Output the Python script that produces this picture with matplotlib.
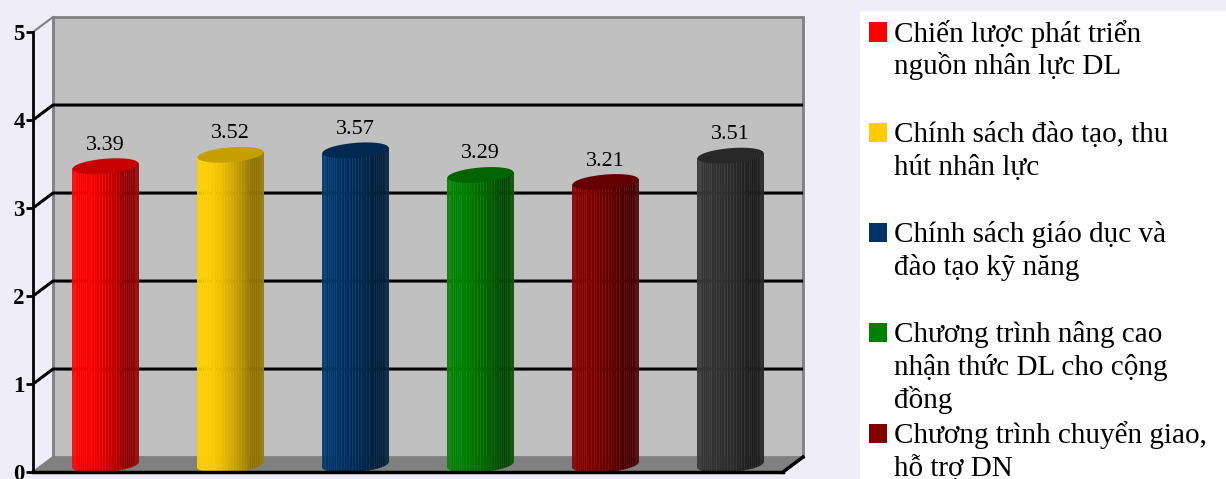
import numpy as np
import matplotlib.pyplot as plt
from matplotlib.patches import Polygon, Rectangle
from matplotlib.colors import to_rgb

# Scores per policy group (0-5 scale)
values = [3.39, 3.52, 3.57, 3.29, 3.21, 3.51]
bar_colors = ['#ff0000', '#ffcc00', '#003366', '#008000', '#800000', '#333333']
legend_labels = [
    "Chiến lược phát triển\nnguồn nhân lực DL",
    "Chính sách đào tạo, thu\nhút nhân lực",
    "Chính sách giáo dục và\nđào tạo kỹ năng",
    "Chương trình nâng cao\nnhận thức DL cho cộng\nđồng",
    "Chương trình chuyển giao,\nhỗ trợ DN",
]
y_ticks = [0, 1, 2, 3, 4, 5]

SERIF = ['Liberation Serif', 'DejaVu Serif']

W, H = 1226, 479
fig = plt.figure(figsize=(W / 100, H / 100), dpi=100, facecolor='#eeedf8')

# legend panel
fig.patches.append(Rectangle((860 / W, 0), 1, 1 - 11 / H, transform=fig.transFigure,
                             fc='white', ec='none', zorder=0))

ax = fig.add_axes([33 / W, 7 / H, 750 / W, 440 / H])
ax.set_xlim(-0.5, len(values) - 0.5)
ax.set_ylim(0, 5)
ax.set_facecolor('none')

# depth of the 3D box in data units
dx, dy = 0.16, 0.17
x0, x1 = -0.5, len(values) - 0.5

# back wall
ax.add_patch(Rectangle((x0 + dx, dy), x1 - x0, 5, fc='#c0c0c0', ec='#808080',
                       lw=2, clip_on=False, zorder=0))
for v in y_ticks[1:-1]:
    ax.plot([x0, x0 + dx, x1 + dx], [v, v + dy, v + dy], color='black', lw=2.2,
            clip_on=False, zorder=1, solid_capstyle='butt')
for v in (0, 5):
    ax.plot([x0, x0 + dx], [v, v + dy], color='#808080', lw=1.5, clip_on=False, zorder=1)

# floor
ax.add_patch(Polygon([(x0, 0), (x1, 0), (x1 + dx, dy), (x0 + dx, dy)], closed=True,
                     fc='#808080', ec='none', clip_on=False, zorder=1))
ax.plot([x1, x1 + dx], [0, dy], color='black', lw=2.5, clip_on=False, zorder=5)


def cylinder(ax, cx, v, color, r=0.264, b=0.085, tilt=0.03, base=dy / 2, n=36):
    rgb = np.array(to_rgb(color))
    phi = np.linspace(-np.pi / 2, np.pi / 2, n + 1)
    xs = cx + r * np.sin(phi)
    yb = base - b * np.cos(phi) + tilt * np.sin(phi)
    yt = base + v + tilt * np.sin(phi)
    for i in range(n):
        pm = 0.5 * (phi[i] + phi[i + 1])
        shade = 0.55 + 0.45 * max(0.0, np.cos(pm + np.radians(50)))
        c = np.clip(rgb * shade, 0, 1)
        edge = np.clip(c + 0.06, 0, 1)
        ax.add_patch(Polygon([(xs[i], yb[i]), (xs[i + 1], yb[i + 1]),
                              (xs[i + 1], yt[i + 1]), (xs[i], yt[i])],
                             closed=True, fc=c, ec=edge, lw=0.3, zorder=3))
    th = np.linspace(0, 2 * np.pi, 80)
    top = np.column_stack([cx + r * np.cos(th),
                           base + v + b * np.sin(th) + tilt * np.cos(th)])
    ax.add_patch(Polygon(top, closed=True, fc=np.clip(rgb * 0.78, 0, 1),
                         ec='none', zorder=3.5))
    ax.annotate(f'{v:.2f}', (cx, base + v + b), xytext=(0, 6.5), textcoords='offset points',
                ha='center', va='baseline', fontsize=16, family=SERIF, zorder=4)


for i, (v, c) in enumerate(zip(values, bar_colors)):
    cylinder(ax, i + dx / 2, v, c)

# axes
for s in ('top', 'right'):
    ax.spines[s].set_visible(False)
ax.spines['left'].set_linewidth(2)
ax.spines['bottom'].set_linewidth(2.5)
ax.spines['left'].set_zorder(5)
ax.spines['bottom'].set_zorder(5)
ax.set_xticks([])
ax.set_yticks(y_ticks)
ax.set_yticklabels([str(t) for t in y_ticks], fontsize=16.5, fontweight='bold', family=SERIF)
ax.tick_params(axis='y', direction='out', length=5, width=2, pad=1)

# legend entries, one text per line so baselines are evenly spaced
top_px = 32
step = 100.3
line_px = 33
for k, (lab, c) in enumerate(zip(legend_labels, bar_colors)):
    yc = top_px + k * step
    fig.patches.append(Rectangle((869 / W, 1 - (yc + 9.5) / H), 18 / W, 19 / H,
                                 transform=fig.transFigure, fc=c, ec='none', zorder=2))
    for j, line in enumerate(lab.split('\n')):
        fig.text(894 / W, 1 - (yc + 9.5 + j * line_px) / H, line, ha='left',
                 va='baseline', fontsize=21, family=SERIF, zorder=3)

fig.savefig('out.png', dpi=100, facecolor=fig.get_facecolor())
